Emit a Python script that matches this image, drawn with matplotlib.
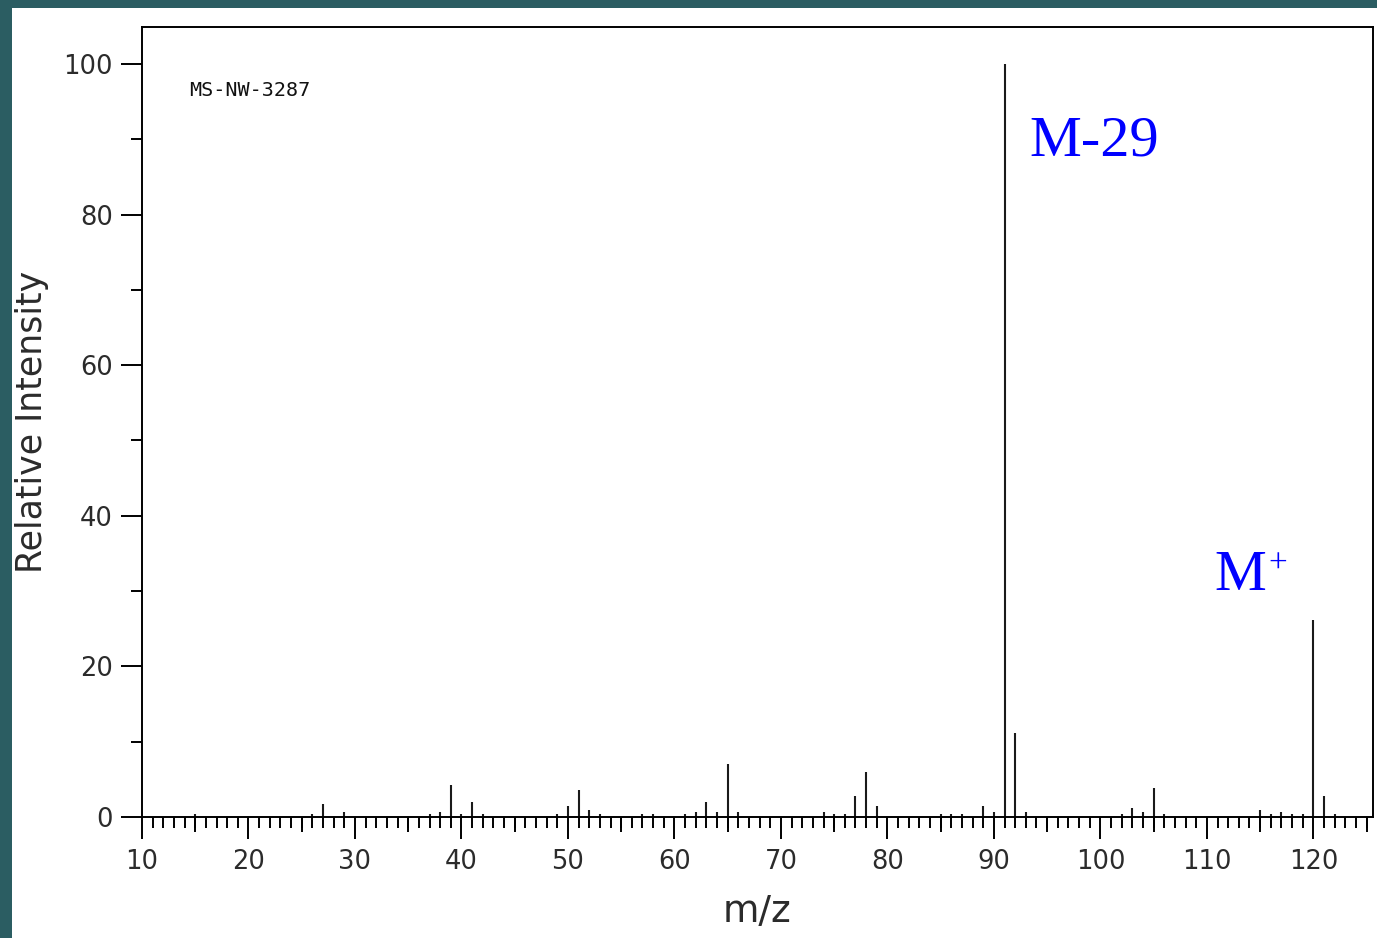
import matplotlib.pyplot as plt
from matplotlib.patches import Rectangle
from matplotlib.ticker import MultipleLocator, NullFormatter

# mass spectrum peaks (m/z, relative intensity %)
mz = [15, 26, 27, 29, 37, 38, 39, 40, 41, 42, 49, 50, 51, 52, 53, 57, 58,
      61, 62, 63, 64, 65, 66, 74, 75, 76, 77, 78, 79, 85, 86, 87, 89, 90,
      91, 92, 93, 102, 103, 104, 105, 106, 115, 116, 117, 118, 119, 120,
      121, 122]
intensity = [0.35, 0.35, 1.7, 0.6, 0.35, 0.6, 4.2, 0.35, 2.0, 0.35, 0.35,
             1.45, 3.6, 0.9, 0.35, 0.35, 0.35, 0.35, 0.6, 2.0, 0.6, 7.1, 0.6,
             0.6, 0.35, 0.35, 2.85, 6.0, 1.45, 0.35, 0.35, 0.35, 1.45, 0.6,
             100.0, 11.2, 0.6, 0.35, 1.15, 0.6, 3.9, 0.35, 0.9, 0.35, 0.6,
             0.35, 0.35, 26.1, 2.8, 0.35]

sample_id = "MS-NW-3287"
x_label = "m/z"
y_label = "Relative Intensity"
x_major = list(range(10, 121, 10))
x_mid = list(range(15, 126, 10))
y_major = list(range(0, 101, 20))

text_col = "#2b2b2b"
W, H = 1377, 938
fig = plt.figure(figsize=(W / 100, H / 100), dpi=100, facecolor="#2b5d62")
# white page over the teal frame (frame shows only at top and left edge)
fig.patches.append(Rectangle((12 / W, 0), 1, (H - 8) / H, transform=fig.transFigure,
                             facecolor="white", edgecolor="none", zorder=-10))

ax = fig.add_axes([142 / W, 1 - 817 / H, (1373 - 142) / W, (817 - 27) / H])
ax.vlines(mz, 0, intensity, color="#1a1a1a", lw=1.5)
ax.set_xlim(10, 125.6)
ax.set_ylim(0, 104.9)

ax.set_xticks(x_major)
ax.xaxis.set_minor_locator(MultipleLocator(1))
ax.set_yticks(y_major)
ax.yaxis.set_minor_locator(MultipleLocator(10))
ax.tick_params(axis="x", which="major", length=16, width=1.4, pad=7,
               labelsize=18.5, labelcolor=text_col)
ax.tick_params(axis="x", which="minor", length=8, width=1.4)
ax.tick_params(axis="y", which="major", length=15, width=1.4, pad=6,
               labelsize=18.5, labelcolor=text_col)
ax.tick_params(axis="y", which="minor", length=8, width=1.4)
for s in ax.spines.values():
    s.set_linewidth(1.4)

# medium ticks at the 5s
ax2 = ax.twiny()
ax2.set_xlim(ax.get_xlim())
ax2.xaxis.set_ticks_position("bottom")
ax2.set_xticks(x_mid)
ax2.xaxis.set_major_formatter(NullFormatter())
ax2.tick_params(axis="x", length=11, width=1.4, labelbottom=False, labeltop=False)
for s in ax2.spines.values():
    s.set_visible(False)

ax.set_xlabel(x_label, fontsize=27, color=text_col, labelpad=14)
ax.set_ylabel(y_label, fontsize=25, color=text_col, labelpad=10)

ax.text(14.4, 96.5, sample_id, family="DejaVu Sans Mono", fontsize=14.5,
        color="#111111", va="center")

ax.text(93.3, 87.8, "M-29", family="Liberation Serif", fontsize=42,
        color="#0000ff", va="baseline")
ax.text(110.7, 30.1, "M", family="Liberation Serif", fontsize=42,
        color="#0000ff", va="baseline")
ax.text(115.8, 33.5, "+", family="Liberation Serif", fontsize=24,
        color="#0000ff", va="center")

fig.savefig("out.png", dpi=100, facecolor=fig.get_facecolor())
